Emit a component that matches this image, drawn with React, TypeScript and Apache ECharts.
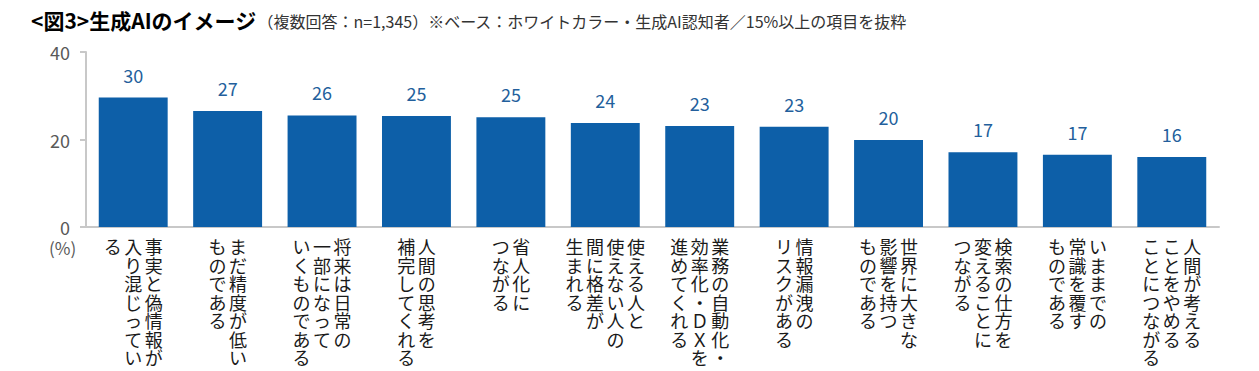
import React, { useEffect, useRef } from "react";
import * as echarts from "echarts";

// Category labels: each "\n" separates a vertical column (first column is rightmost)
const categories: string[] = [
  "事実と偽情報が\n入り混じってい\nる",
  "まだ精度が低い\nものである",
  "将来は日常の\n一部になって\nいくものである",
  "人間の思考を\n補完してくれる",
  "省人化に\nつながる",
  "使える人と\n使えない人の\n間に格差が\n生まれる",
  "業務の自動化・\n効率化・ＤＸを\n進めてくれる",
  "情報漏洩の\nリスクがある",
  "世界に大きな\n影響を持つ\nものである",
  "検索の仕方を\n変えることに\nつながる",
  "いままでの\n常識を覆す\nものである",
  "人間が考える\nことをやめる\nことにつながる",
];

const values: number[] = [29.6, 26.5, 25.5, 25.4, 25.1, 23.8, 23.1, 22.9, 19.9, 17.1, 16.5, 16.0];

const yTicks: number[] = [0, 20, 40];

const titleMain = "<図3>生成AIのイメージ";
const titleSub = "（複数回答：n=1,345）※ベース：ホワイトカラー・生成AI認知者／15%以上の項目を抜粋";
const unitLabel = "(%)";

const FONT = "'Noto Sans CJK JP', 'Noto Sans', sans-serif";

function verticalize(label: string): string {
  const cols = label.split("\n").map((c) => Array.from(c));
  const maxLen = Math.max(...cols.map((c) => c.length));
  const rows: string[] = [];
  for (let i = 0; i < maxLen; i++) {
    let row = "";
    for (let j = cols.length - 1; j >= 0; j--) {
      const ch = cols[j][i] ?? "　";
      row += "{c|" + ch + "}";
    }
    rows.push(row);
  }
  return rows.join("\n");
}

export default function App() {
  const ref = useRef<HTMLDivElement>(null);
  useEffect(() => {
    if (!ref.current) return;
    const chart = echarts.init(ref.current, undefined, { renderer: "svg" });
    chart.setOption({
      animation: false,
      backgroundColor: "#ffffff",
      title: {
        text: "{b|" + titleMain + "}{n|" + titleSub + "}",
        left: 26,
        top: 1,
        textStyle: {
          fontWeight: "normal",
          rich: {
            b: { fontSize: 21, fontWeight: "bold", color: "#000000", fontFamily: FONT, lineHeight: 28 },
            n: { fontSize: 16, fontWeight: "normal", color: "#333333", fontFamily: FONT, lineHeight: 28, padding: [2, 0, 0, 1] },
          },
        },
      },
      grid: { left: 86, right: 40, top: 52, bottom: 144, containLabel: false },
      xAxis: {
        type: "category",
        data: categories,
        axisLine: { show: true, lineStyle: { color: "#c8c8c8", width: 2 } },
        axisTick: { show: false },
        axisLabel: {
          interval: 0,
          margin: 10,
          formatter: (v: string) => verticalize(v),
          rich: {
            c: {
              width: 20.5,
              align: "center",
              fontSize: 18,
              lineHeight: 18.5,
              color: "#1a1a1a",
              fontFamily: FONT,
            },
          },
        },
      },
      yAxis: {
        type: "value",
        min: yTicks[0],
        max: yTicks[yTicks.length - 1],
        interval: yTicks[1] - yTicks[0],
        splitLine: { show: false },
        axisLine: { show: true, lineStyle: { color: "#c8c8c8", width: 2 } },
        axisTick: { show: true, length: 6, lineStyle: { color: "#c8c8c8", width: 2 } },
        axisLabel: { fontSize: 18, color: "#595959", margin: 16, fontFamily: FONT },
      },
      graphic: [
        {
          type: "text",
          left: 49,
          top: 239,
          style: { text: unitLabel, fontSize: 17, fill: "#595959", fontFamily: FONT },
        },
      ],
      series: [
        {
          type: "bar",
          data: values,
          barWidth: "73%",
          itemStyle: { color: "#0d5fa8" },
          label: {
            show: true,
            position: "top",
            distance: 14,
            fontSize: 18,
            fontWeight: "normal",
            color: "#235f9c",
            fontFamily: FONT,
            formatter: (p: any) => String(Math.round(p.value)),
          },
        },
      ],
    });
    return () => chart.dispose();
  }, []);
  return (
    <div
      ref={ref}
      style={{ position: "fixed", left: 0, top: 0, width: 1259, height: 371, background: "#fff" }}
    />
  );
}
